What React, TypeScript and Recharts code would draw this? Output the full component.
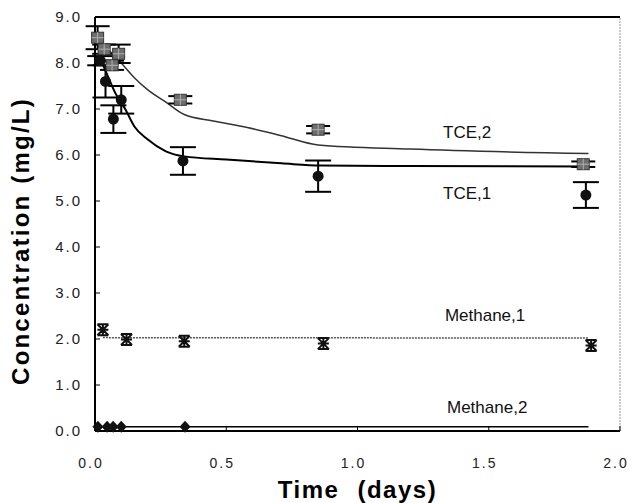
import React from "react";
import {
  ComposedChart,
  Line,
  Scatter,
  ErrorBar,
  XAxis,
  YAxis,
  ReferenceLine,
  ReferenceDot,
} from "recharts";

// measured points (days, mg/L)
const tce2Time = [0.01, 0.035, 0.065, 0.09, 0.325, 0.85, 1.86];
const tce2Conc = [8.55, 8.3, 7.95, 8.2, 7.2, 6.55, 5.8];
const tce2Err = [0.25, 0.1, 0.1, 0.2, 0.08, 0.08, 0.06];

const tce1Time = [0.02, 0.04, 0.07, 0.1, 0.335, 0.85, 1.87];
const tce1Conc = [8.05, 7.6, 6.78, 7.2, 5.87, 5.54, 5.13];
const tce1Err = [0.1, 0.35, 0.3, 0.3, 0.3, 0.34, 0.28];

const meth1Time = [0.03, 0.12, 0.34, 0.87, 1.89];
const meth1Conc = [2.2, 1.99, 1.95, 1.9, 1.86];

const meth2Time = [0.011, 0.046, 0.069, 0.1, 0.343];
const meth2Conc = [0.09, 0.09, 0.09, 0.09, 0.09];

// model curves
const tce2ModelTime = [0, 0.05, 0.1, 0.15, 0.2, 0.27, 0.34, 0.45, 0.58, 0.71, 0.85, 1.2, 1.88];
const tce2ModelConc = [8.6, 8.3, 8.0, 7.68, 7.42, 7.15, 6.88, 6.74, 6.6, 6.42, 6.22, 6.13, 6.03];

const tce1ModelTime = [0.02, 0.05, 0.077, 0.115, 0.15, 0.2, 0.27, 0.34, 0.5, 0.71, 0.86, 1.2, 1.88];
const tce1ModelConc = [8.1, 7.7, 7.35, 7.0, 6.62, 6.34, 6.08, 5.97, 5.9, 5.82, 5.77, 5.76, 5.75];

const meth1ModelTime = [0.03, 1.88];
const meth1ModelConc = [2.03, 2.02];

const meth2ModelTime = [0, 1.88];
const meth2ModelConc = [0.09, 0.09];

const xTicks = [0, 0.5, 1, 1.5, 2];
const yTicks = [0, 1, 2, 3, 4, 5, 6, 7, 8, 9];

const labels = [
  { text: "TCE,2", x: 1.326, y: 6.37 },
  { text: "TCE,1", x: 1.326, y: 5.04 },
  { text: "Methane,1", x: 1.333, y: 2.39 },
  { text: "Methane,2", x: 1.341, y: 0.39 },
];

const zip = (xs: number[], ys: number[], es?: number[]) =>
  xs.map((x, i) => ({ x, y: ys[i], err: es ? es[i] : 0 }));

const tce2Pts = zip(tce2Time, tce2Conc, tce2Err);
const tce1Pts = zip(tce1Time, tce1Conc, tce1Err);
const meth1Pts = zip(meth1Time, meth1Conc);
const meth2Pts = zip(meth2Time, meth2Conc);

const FONT = "'Liberation Sans', Arial, Helvetica, sans-serif";

const Square = (p: any) => (
  <g>
    <rect x={p.cx - 6} y={p.cy - 5.5} width={12} height={11} fill="#6e6e6e" stroke="#333" strokeWidth={1} />
    <path d={`M${p.cx - 6} ${p.cy} H${p.cx + 6} M${p.cx} ${p.cy - 5.5} V${p.cy + 5.5}`} stroke="#b0b0b0" strokeWidth={1} />
  </g>
);

const Circle = (p: any) => <circle cx={p.cx} cy={p.cy} r={5.5} fill="#111" />;

const Star = (p: any) => {
  const { cx, cy } = p;
  const s = 5.5;
  return (
    <path
      d={`M${cx - s} ${cy - s} H${cx + s} M${cx - s} ${cy + s} H${cx + s} M${cx - s} ${cy - s} L${cx + s} ${cy + s} M${cx + s} ${cy - s} L${cx - s} ${cy + s} M${cx} ${cy - s} V${cy + s} M${cx - s} ${cy} H${cx + s}`}
      stroke="#111"
      strokeWidth={2}
      fill="none"
    />
  );
};

const Diamond = (p: any) => {
  const { cx, cy } = p;
  return <path d={`M${cx} ${cy - 6} L${cx + 5.5} ${cy} L${cx} ${cy + 6} L${cx - 5.5} ${cy} Z`} fill="#111" />;
};

const XTick = (p: any) => (
  <text x={p.x - 4} y={p.y} dy={10} textAnchor="middle" fontFamily={FONT} fontSize={14} fill="#222" letterSpacing={2}>
    {p.payload.value.toFixed(1)}
  </text>
);

const YTick = (p: any) => (
  <text x={p.x} y={p.y} dy={5} textAnchor="end" fontFamily={FONT} fontSize={15} fill="#222" letterSpacing={2}>
    {p.payload.value.toFixed(1)}
  </text>
);

const XTitle = (p: any) => {
  const vb = p.viewBox;
  return (
    <text x={vb.x + vb.width / 2} y={vb.y + 67} textAnchor="middle" fontFamily={FONT} fontSize={24} fontWeight="bold" fill="#000" letterSpacing={1.5}>
      <tspan>Time</tspan>
      <tspan dx={18}>(days)</tspan>
    </text>
  );
};

const YTitle = () => (
  <text x={29} y={241} transform="rotate(-90 29 241)" textAnchor="middle" fontFamily={FONT} fontSize={24} fontWeight="bold" fill="#000" letterSpacing={2.2}>
    <tspan>Concentration</tspan>
    <tspan dx={10}>(mg/L)</tspan>
  </text>
);

const Annot = (text: string) => (p: any) => (
  <text x={p.viewBox.x} y={p.viewBox.y} fontFamily={FONT} fontSize={17} fill="#111">
    {text}
  </text>
);

export default function App() {
  return (
    <div style={{ width: 631, height: 503, background: "#fff" }}>
      <style>{"body{margin:0}"}</style>
      <ComposedChart width={631} height={503} margin={{ top: 17, right: 11, bottom: 0, left: 0 }}>
        <XAxis
          dataKey="x"
          type="number"
          domain={[0, 2]}
          ticks={xTicks}
          height={72}
          axisLine={{ stroke: "#000", strokeWidth: 2 }}
          tickLine={{ stroke: "#000", strokeWidth: 1 }}
          tickSize={-5}
          tickMargin={32}
          tick={<XTick />}
          label={<XTitle />}
        />
        <YAxis
          dataKey="y"
          type="number"
          domain={[0, 9]}
          ticks={yTicks}
          width={95}
          axisLine={{ stroke: "#000", strokeWidth: 2 }}
          tickLine={{ stroke: "#000", strokeWidth: 1 }}
          tickSize={-5}
          tickMargin={18}
          tick={<YTick />}
          label={<YTitle />}
        />
        <ReferenceLine y={9} stroke="#000" strokeWidth={2} />
        <ReferenceLine x={2} stroke="#999" strokeWidth={1} strokeDasharray="2 1" />

        <Line data={zip(tce2ModelTime, tce2ModelConc)} dataKey="y" type="monotone" dot={false} stroke="#333" strokeWidth={1.5} isAnimationActive={false} />
        <Line data={zip(tce1ModelTime, tce1ModelConc)} dataKey="y" type="monotone" dot={false} stroke="#000" strokeWidth={2} isAnimationActive={false} />
        <Line data={zip(meth1ModelTime, meth1ModelConc)} dataKey="y" type="linear" dot={false} stroke="#555" strokeWidth={1.5} strokeDasharray="2 1" isAnimationActive={false} />
        <Line data={zip(meth2ModelTime, meth2ModelConc)} dataKey="y" type="linear" dot={false} stroke="#000" strokeWidth={1.5} isAnimationActive={false} />

        <Scatter data={tce2Pts} dataKey="y" shape={Square} isAnimationActive={false}>
          <ErrorBar dataKey="err" direction="y" width={12} stroke="#000" strokeWidth={2} />
        </Scatter>
        <Scatter data={tce1Pts} dataKey="y" shape={Circle} isAnimationActive={false}>
          <ErrorBar dataKey="err" direction="y" width={13} stroke="#000" strokeWidth={2} />
        </Scatter>
        <Scatter data={meth1Pts} dataKey="y" shape={Star} isAnimationActive={false} />
        <Scatter data={meth2Pts} dataKey="y" shape={Diamond} isAnimationActive={false} />

        {labels.map((l) => (
          <ReferenceDot key={l.text} x={l.x} y={l.y} r={0} fill="none" stroke="none" label={Annot(l.text)} />
        ))}
      </ComposedChart>
    </div>
  );
}
